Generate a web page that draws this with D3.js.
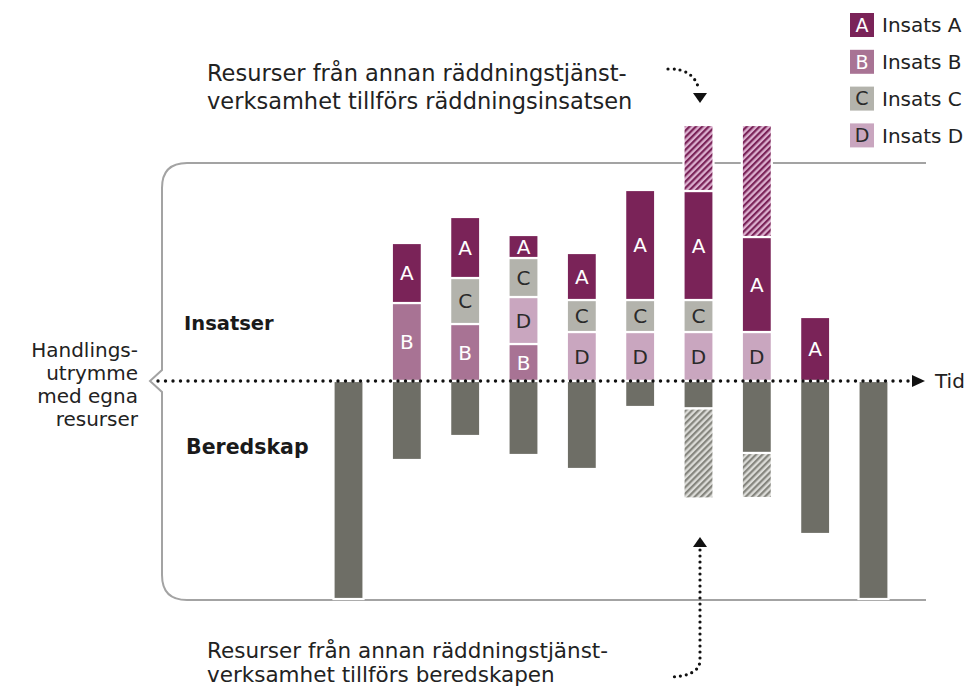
<!DOCTYPE html>
<html>
<head>
<meta charset="utf-8">
<title>Handlingsutrymme</title>
<script src="https://d3js.org/d3.v7.min.js"></script>
<style>
  body { margin: 0; background: #fff; }
  text { font-family: "DejaVu Sans", sans-serif; }
</style>
</head>
<body>
<svg width="966" height="691"></svg>
<script>
// tidpunkter (kolumner)
const steps = [0, 1, 2, 3, 4, 5, 6, 7, 8, 9];
// insatser ovanför tidslinjen (staplade nedifrån: B, D, C, A, extra)
const insatsA = [0, 6.0, 6.1, 2.3, 4.7, 11.0, 10.9, 9.5, 6.4, 0];
const insatsB = [0, 7.8, 5.7, 3.7, 0, 0, 0, 0, 0, 0];
const insatsC = [0, 0, 4.6, 3.9, 3.2, 3.2, 3.2, 0, 0, 0];
const insatsD = [0, 0, 0, 4.7, 4.9, 4.9, 4.9, 4.9, 0, 0];
const extraInsats = [0, 0, 0, 0, 0, 0, 6.6, 11.2, 0, 0];
// beredskap under tidslinjen
const beredskap = [21.8, 7.9, 5.5, 7.4, 8.8, 2.6, 2.75, 7.2, 15.3, 21.8];
const extraBeredskap = [0, 0, 0, 0, 0, 0, 9.0, 4.5, 0, 0];

const legendKeys = ["A", "B", "C", "D"];
const legendLabels = ["Insats A", "Insats B", "Insats C", "Insats D"];
const sideLabel = ["Handlings-", "utrymme", "med egna", "resurser"];
const topNote = ["Resurser från annan räddningstjänst-", "verksamhet tillförs räddningsinsatsen"];
const bottomNote = ["Resurser från annan räddningstjänst-", "verksamhet tillförs beredskapen"];

const colors = {A: "#7a2358", B: "#a87394", C: "#b3b3ac", D: "#c9a6bf", G: "#6e6e66"};
const letterColor = {A: "#fff", B: "#fff", C: "#2a2a2a", D: "#2a2a2a"};

const svg = d3.select("svg");

// mönster för tillförda resurser
const defs = svg.append("defs");
function hatch(id, bg, fg) {
  const p = defs.append("pattern").attr("id", id)
    .attr("patternUnits", "userSpaceOnUse").attr("width", 4.5).attr("height", 4.5)
    .attr("patternTransform", "rotate(45)");
  p.append("rect").attr("width", 4.5).attr("height", 4.5).attr("fill", bg);
  p.append("rect").attr("width", 2.2).attr("height", 4.5).attr("fill", fg);
}
hatch("hatchA", "#dcb0cf", "#7a2358");
hatch("hatchG", "#dcdcd8", "#85857e");

// skalor
const x = d3.scaleBand().domain(steps).range([319.35, 902.65])
  .paddingInner(0.485).paddingOuter(0.2425);
const y = d3.scaleLinear().domain([-22, 26]).range([601, 121]);
const y0 = y(0);

// ram / klammer
svg.append("path")
  .attr("d", `M926,163 H187 Q162,163 162,188 V370 L150,381 L162,392 V575 Q162,600 187,600 H926`)
  .attr("fill", "none").attr("stroke", "#a3a3a3").attr("stroke-width", 2);

// staplade insatser
const rows = steps.map(i => ({i, B: insatsB[i], D: insatsD[i], C: insatsC[i], A: insatsA[i], E: extraInsats[i]}));
const stack = d3.stack().keys(["B", "D", "C", "A", "E"])(rows);

const bars = svg.append("g");
stack.forEach(layer => {
  const key = layer.key;
  const segs = layer.filter(d => d[1] - d[0] > 0);
  const g = bars.append("g");
  g.selectAll("rect").data(segs).join("rect")
    .attr("x", d => x(d.data.i))
    .attr("y", d => y(d[1]))
    .attr("width", x.bandwidth())
    .attr("height", d => y(d[0]) - y(d[1]))
    .attr("fill", key === "E" ? "url(#hatchA)" : colors[key])
    .attr("stroke", "#fff").attr("stroke-width", 2.2);
  if (key !== "E") {
    g.selectAll("text").data(segs).join("text")
      .attr("x", d => x(d.data.i) + x.bandwidth() / 2)
      .attr("y", d => (y(d[0]) + y(d[1])) / 2)
      .attr("dy", "0.36em")
      .attr("text-anchor", "middle")
      .attr("font-size", 20)
      .attr("fill", letterColor[key])
      .text(key);
  }
});

// beredskap
bars.append("g").selectAll("rect").data(steps).join("rect")
  .attr("x", i => x(i))
  .attr("y", y0)
  .attr("width", x.bandwidth())
  .attr("height", i => y(-beredskap[i]) - y0)
  .attr("fill", colors.G)
  .attr("stroke", "#fff").attr("stroke-width", 2.2);

bars.append("g").selectAll("rect").data(steps.filter(i => extraBeredskap[i] > 0)).join("rect")
  .attr("x", i => x(i))
  .attr("y", i => y(-beredskap[i]))
  .attr("width", x.bandwidth())
  .attr("height", i => y(-beredskap[i] - extraBeredskap[i]) - y(-beredskap[i]))
  .attr("fill", "url(#hatchG)")
  .attr("stroke", "#fff").attr("stroke-width", 2.2);

// tidslinje
svg.append("line")
  .attr("x1", 158).attr("x2", 910).attr("y1", y0).attr("y2", y0)
  .attr("stroke", "#111").attr("stroke-width", 3.4)
  .attr("stroke-linecap", "round").attr("stroke-dasharray", "0,7.5");
svg.append("path").attr("d", `M912,${y0 - 6} L925,${y0} L912,${y0 + 6} Z`).attr("fill", "#111");
svg.append("text").attr("x", 935).attr("y", y0).attr("dy", "0.36em")
  .attr("font-size", 20).attr("fill", "#222").text("Tid");

// rubriker
svg.append("text").attr("x", 184).attr("y", 330).attr("font-size", 19.5)
  .attr("font-weight", "bold").attr("fill", "#1a1a1a").text("Insatser");
svg.append("text").attr("x", 186).attr("y", 454).attr("font-size", 20.5)
  .attr("font-weight", "bold").attr("fill", "#1a1a1a").text("Beredskap");

// sidotext
svg.append("g").selectAll("text").data(sideLabel).join("text")
  .attr("x", 138).attr("y", (d, i) => 357 + i * 23)
  .attr("text-anchor", "end").attr("font-size", 20).attr("fill", "#222")
  .text(d => d);

// anteckningar
svg.append("g").selectAll("text").data(topNote).join("text")
  .attr("x", 207).attr("y", (d, i) => 81 + i * 28)
  .attr("font-size", 22.5).attr("fill", "#222").text(d => d);
svg.append("g").selectAll("text").data(bottomNote).join("text")
  .attr("x", 207).attr("y", (d, i) => 658 + i * 24)
  .attr("font-size", 21.5).attr("fill", "#222").text(d => d);

const dotted = p => svg.append("path").attr("d", p).attr("fill", "none")
  .attr("stroke", "#111").attr("stroke-width", 3.2)
  .attr("stroke-linecap", "round").attr("stroke-dasharray", "0,6");
dotted("M668,69 Q694,68 699,90");
svg.append("path").attr("d", "M693,93 L707,93 L700,103 Z").attr("fill", "#111");
dotted("M700,550 V660 Q700,676 670,677");
svg.append("path").attr("d", "M693,547 L707,547 L700,537 Z").attr("fill", "#111");

// förklaring
const leg = svg.append("g");
legendKeys.forEach((k, i) => {
  const yy = 13 + i * 36.8;
  leg.append("rect").attr("x", 850).attr("y", yy).attr("width", 24).attr("height", 24)
    .attr("fill", colors[k]);
  leg.append("text").attr("x", 862).attr("y", yy + 12).attr("dy", "0.36em")
    .attr("text-anchor", "middle").attr("font-size", 19).attr("fill", letterColor[k]).text(k);
  leg.append("text").attr("x", 882).attr("y", yy + 12).attr("dy", "0.36em")
    .attr("font-size", 20).attr("fill", "#222").text(legendLabels[i]);
});
</script>
</body>
</html>
